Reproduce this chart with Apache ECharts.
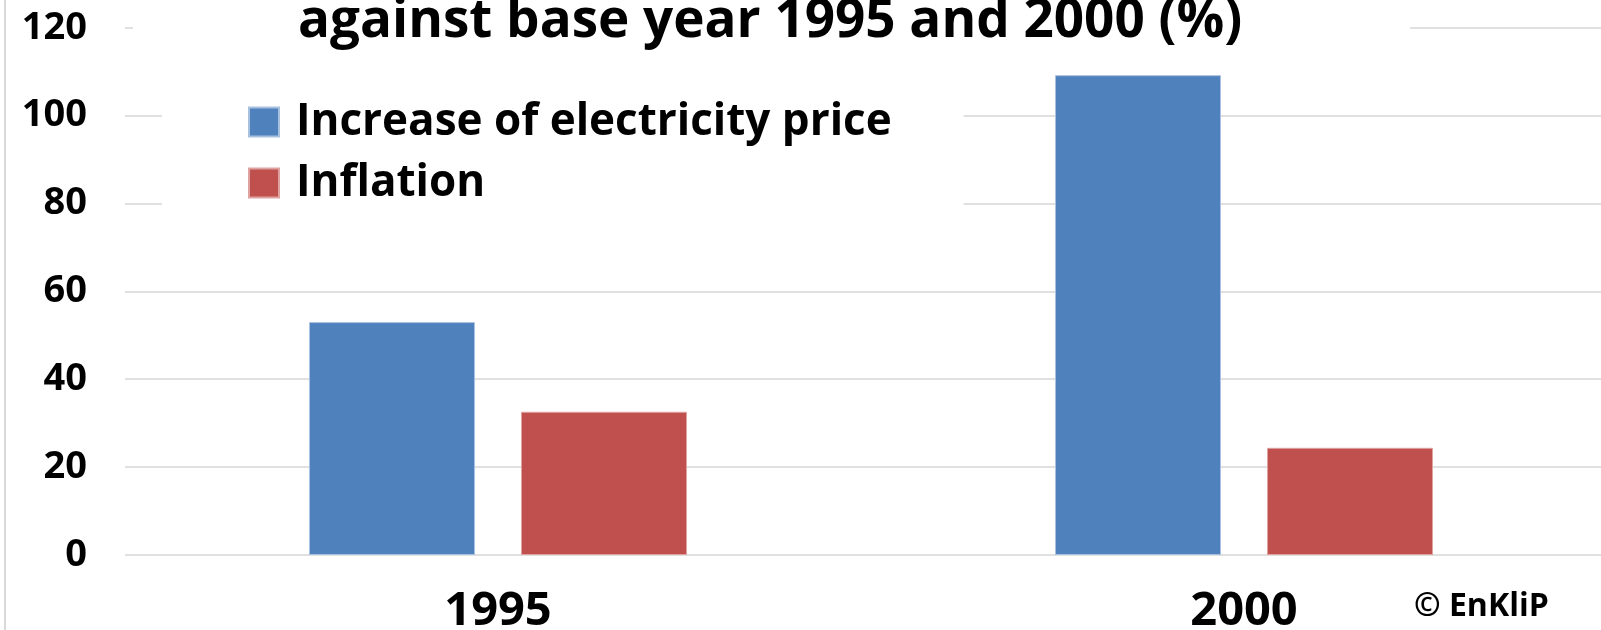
<!DOCTYPE html>
<html>
<head>
<meta charset="utf-8">
<script src="https://cdn.jsdelivr.net/npm/echarts@6/dist/echarts.min.js"></script>
<style>
  html, body { margin: 0; padding: 0; background: #fff; }
  #chart { width: 1601px; height: 630px; }
</style>
</head>
<body>
<div id="chart"></div>
<script>
// values (% increase)
const years = ["1995", "2000"];
const electricityIncrease = [53.0, 109.2];
const inflation = [32.6, 24.4];
const yTicks = { min: 0, max: 120, step: 20 };

const seriesNames = ["Increase of electricity price", "Inflation"];
const FONT = "'Open Sans', sans-serif";

const chart = echarts.init(document.getElementById("chart"));

const option = {
    backgroundColor: "#ffffff",
    animation: false,
    // the first title line is cut off in the original, only the second one shows
    title: {
        text: "against base year 1995 and 2000 (%)",
        left: 133,
        top: -5,
        backgroundColor: "#ffffff",
        padding: [0, 168, 6, 165],
        textStyle: {
            fontFamily: FONT,
            fontWeight: "bold",
            fontSize: 53,
            color: "#000"
        }
    },
    legend: {
        orient: "vertical",
        left: 162,
        top: 70,
        padding: [30, 72, 20, 86],
        backgroundColor: "#ffffff",
        itemWidth: 30,
        itemHeight: 29,
        itemGap: 17,
        icon: "rect",
        data: seriesNames,
        textStyle: {
            fontFamily: FONT,
            fontWeight: "bold",
            fontSize: 44,
            color: "#000",
            padding: [0, 0, 0, 12]
        }
    },
    // the plot area runs a little past the right edge of the picture
    grid: {
        left: 125,
        top: 27.7,
        width: 1492,
        bottom: 75,
        containLabel: false,
        outerBoundsMode: "none"
    },
    xAxis: {
        type: "category",
        data: years,
        axisLine: { show: false },
        axisTick: { show: false },
        axisLabel: {
            margin: 33,
            fontFamily: FONT,
            fontWeight: "bold",
            fontSize: 47,
            color: "#000"
        }
    },
    yAxis: {
        type: "value",
        min: yTicks.min,
        max: yTicks.max,
        interval: yTicks.step,
        axisLine: { show: false },
        axisTick: { show: false },
        axisLabel: {
            margin: 38,
            fontFamily: FONT,
            fontWeight: "bold",
            fontSize: 38,
            color: "#000"
        },
        splitLine: { lineStyle: { color: "#d6d6d6", width: 1.5 } }
    },
    series: [
        {
            name: seriesNames[0],
            type: "bar",
            data: electricityIncrease,
            barWidth: 166,
            barGap: "27.7%",
            itemStyle: { color: "#4f81bd", borderColor: "#a9c1df", borderWidth: 1 }
        },
        {
            name: seriesNames[1],
            type: "bar",
            data: inflation,
            barWidth: 166,
            barGap: "27.7%",
            itemStyle: { color: "#c0504d", borderColor: "#dea3a1", borderWidth: 1 }
        }
    ],
    graphic: [
        {
            type: "line",
            shape: { x1: 5, y1: 0, x2: 5, y2: 630 },
            style: { stroke: "#d9d9d9", lineWidth: 2 }
        },
        {
            type: "text",
            left: 1414,
            top: 591,
            style: {
                text: "© EnKliP",
                fontFamily: FONT,
                fontWeight: "bold",
                fontSize: 32,
                fill: "#000"
            }
        }
    ]
};

chart.setOption(option);
window.addEventListener("resize", () => chart.resize());
</script>
</body>
</html>
